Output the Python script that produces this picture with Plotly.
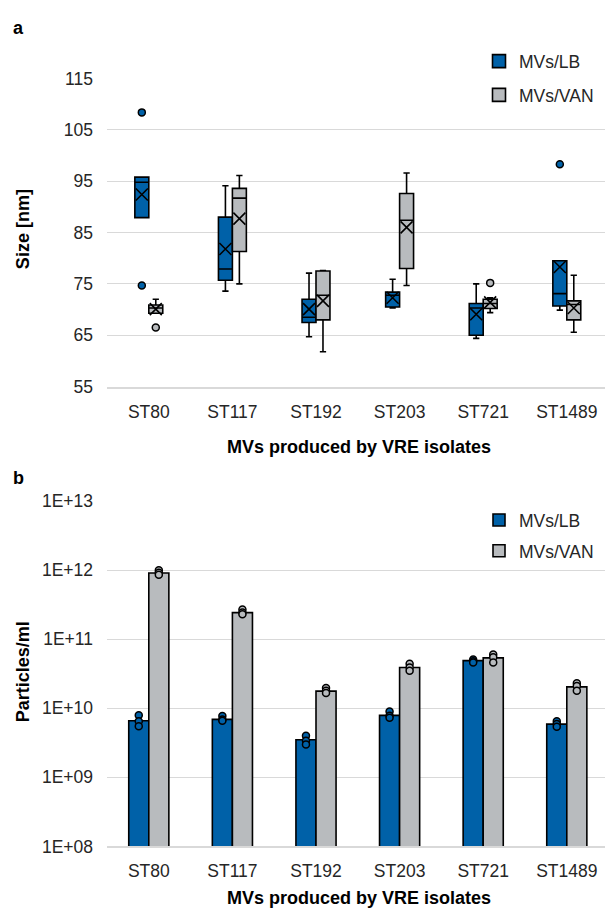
import numpy as np
import plotly.graph_objects as go

# ---------------- data ----------------
categories = ["ST80", "ST117", "ST192", "ST203", "ST721", "ST1489"]
series_names = ["MVs/LB", "MVs/VAN"]

# Panel a: MV size (nm), box-plot statistics
lb_q1 = [87.9, 75.7, 67.5, 70.5, 65.0, 70.7]
lb_median = [94.8, 77.9, 68.5, 72.8, 70.3, 73.1]
lb_q3 = [95.8, 88.0, 72.0, 73.4, 71.2, 79.5]
lb_lower = [87.9, 73.6, 64.7, 70.3, 64.4, 69.9]
lb_upper = [95.8, 94.1, 77.1, 75.9, 75.0, 79.5]
lb_mean = [92.4, 81.8, 70.1, 72.3, 69.1, 78.3]
lb_out_cat = ["ST80", "ST80", "ST1489"]
lb_out_val = [108.4, 74.7, 98.3]

van_q1 = [69.3, 81.3, 68.0, 78.0, 70.2, 68.0]
van_median = [70.3, 91.7, 72.8, 87.4, 71.2, 71.0]
van_q3 = [70.9, 93.6, 77.5, 92.6, 72.0, 71.7]
van_lower = [69.3, 75.0, 61.8, 74.7, 69.4, 65.6]
van_upper = [72.0, 96.1, 77.6, 96.6, 72.3, 76.7]
van_mean = [70.1, 87.7, 71.7, 86.0, 71.4, 70.3]
van_out_cat = ["ST80", "ST721"]
van_out_val = [66.5, 75.2]

size_ticks = [55, 65, 75, 85, 95, 105, 115]

# Panel b: particles/ml (bar = mean, points = replicates)
lb_particles = [6.6e9, 6.9e9, 3.5e9, 7.9e9, 4.9e10, 5.9e9]
van_particles = [9.1e11, 2.43e11, 1.77e10, 3.9e10, 5.36e10, 2.04e10]
lb_reps = [[7.9e9, 6.5e9, 5.5e9], [7.7e9, 6.9e9, 6.6e9], [4.0e9, 3.4e9, 3.0e9],
           [9.0e9, 7.8e9, 7.3e9], [5.1e10, 4.8e10, 4.6e10], [6.5e9, 5.9e9, 5.4e9]]
van_reps = [[1.0e12, 9.2e11, 8.6e11], [2.7e11, 2.43e11, 2.3e11], [1.96e10, 1.79e10, 1.66e10],
            [4.4e10, 3.9e10, 3.5e10], [6.0e10, 5.5e10, 4.6e10], [2.3e10, 2.1e10, 1.8e10]]
particle_ticks = [1e8, 1e9, 1e10, 1e11, 1e12, 1e13]
particle_ticktext = ["1E+08", "1E+09", "1E+10", "1E+11", "1E+12", "1E+13"]

# ---------------- style / layout ----------------
W, H = 605, 919
BLUE = "#0061A8"
GRAY = "#B8BBBE"
GRID = "#D9D9D9"
FONT = "Liberation Sans, Arial, sans-serif"
FS = 17.5
PX0 = 107          # left edge of plot area (px)
CAT_STEP = 83.6    # px per category
A_TOP, A_BOT = 70, 385
B_TOP, B_BOT = 502, 855
BOX_W = 0.167
BAR_W = 0.24


def py(p):
    return 1 - p / H


xs = np.arange(len(categories), dtype=float)
cat_index = {c: i for i, c in enumerate(categories)}
x_range = [-0.5, -0.5 + (W - PX0) / CAT_STEP]

fig = go.Figure()

# ---- panel a ----
for name, color, sgn, q1, med, q3, lo, hi, mn, ocat, oval in [
    (series_names[0], BLUE, -1, lb_q1, lb_median, lb_q3, lb_lower, lb_upper, lb_mean, lb_out_cat, lb_out_val),
    (series_names[1], GRAY, 1, van_q1, van_median, van_q3, van_lower, van_upper, van_mean, van_out_cat, van_out_val),
]:
    xpos = xs + sgn * BOX_W / 2
    fig.add_trace(go.Box(
        x=xpos, q1=q1, median=med, q3=q3, lowerfence=lo, upperfence=hi,
        width=BOX_W, fillcolor=color, line=dict(color="black", width=1.6),
        whiskerwidth=0.45, boxpoints=False, name=name, showlegend=False,
        xaxis="x", yaxis="y", hoverinfo="skip"))
    # legend entry (plain square swatch, as in the original)
    fig.add_trace(go.Scatter(
        x=[None], y=[None], mode="markers", name=name, legend="legend",
        legendgroup=name,
        marker=dict(symbol="square", size=13, color=color,
                    line=dict(color="black", width=1.6)),
        xaxis="x", yaxis="y", hoverinfo="skip"))
    fig.add_trace(go.Scatter(
        x=xpos, y=mn, mode="markers", showlegend=False, xaxis="x", yaxis="y",
        marker=dict(symbol="x-thin-open", size=12, color="black",
                    line=dict(color="black", width=1.6)), hoverinfo="skip"))
    ox = [cat_index[c] + sgn * BOX_W / 2 for c in ocat]
    fig.add_trace(go.Scatter(
        x=ox, y=oval, mode="markers", showlegend=False, xaxis="x", yaxis="y",
        marker=dict(symbol="circle", size=7, color=color,
                    line=dict(color="black", width=1.5)), hoverinfo="skip"))

# ---- panel b ----
for name, color, sgn, vals, reps in [
    (series_names[0], BLUE, -1, lb_particles, lb_reps),
    (series_names[1], GRAY, 1, van_particles, van_reps),
]:
    fig.add_trace(go.Bar(
        x=xs, y=vals, width=BAR_W, offset=(-BAR_W if sgn < 0 else 0),
        marker=dict(color=color, line=dict(color="black", width=1.6)),
        name=name, legend="legend2", legendgroup=name + "b",
        xaxis="x2", yaxis="y2", hoverinfo="skip"))
    px_, py_ = [], []
    for i, r in enumerate(reps):
        for v in r:
            px_.append(xs[i] + sgn * BAR_W / 2)
            py_.append(v)
    fig.add_trace(go.Scatter(
        x=px_, y=py_, mode="markers", showlegend=False, xaxis="x2", yaxis="y2",
        marker=dict(symbol="circle", size=7, color=color,
                    line=dict(color="black", width=1.5)), hoverinfo="skip"))

axis_common = dict(showgrid=False, zeroline=False, ticks="", showline=True,
                   linecolor=GRID, linewidth=2.2,
                   tickfont=dict(family=FONT, size=FS, color="#262626"),
                   tickmode="array", tickvals=list(xs), ticktext=categories,
                   range=x_range, fixedrange=True,
                   ticklabelstandoff=8)
yaxis_common = dict(showgrid=True, gridcolor=GRID, gridwidth=1.4, zeroline=False,
                    ticks="", showline=False,
                    tickfont=dict(family=FONT, size=FS, color="#262626"),
                    ticklabelstandoff=13, fixedrange=True)

legend_common = dict(font=dict(family=FONT, size=FS, color="#262626"),
                     bgcolor="rgba(0,0,0,0)", borderwidth=0,
                     xanchor="left", yanchor="top", itemclick=False)

fig.update_layout(
    width=W, height=H, margin=dict(l=0, r=0, t=0, b=0),
    paper_bgcolor="white", plot_bgcolor="white",
    boxmode="overlay", barmode="overlay",
    xaxis=dict(domain=[PX0 / W, 1.0], anchor="y", **axis_common),
    yaxis=dict(domain=[py(A_BOT), py(A_TOP)], anchor="x", range=[55, 115],
               tickmode="array", tickvals=size_ticks, **yaxis_common),
    xaxis2=dict(domain=[PX0 / W, 1.0], anchor="y2", **axis_common),
    yaxis2=dict(domain=[py(B_BOT), py(B_TOP)], anchor="x2", type="log", range=[8, 13],
                tickmode="array", tickvals=particle_ticks, ticktext=particle_ticktext,
                **yaxis_common),
    legend=dict(x=479 / W, y=py(34), tracegroupgap=8, itemsizing="trace", **legend_common),
    legend2=dict(x=479 / W, y=py(503), tracegroupgap=5, **legend_common),
    showlegend=True,
)

title_font = dict(family=FONT, size=18, color="black")
annotations = [
    dict(text="<b>a</b>", x=18 / W, y=py(18), xref="paper", yref="paper",
         showarrow=False, font=title_font, xanchor="center", yanchor="middle"),
    dict(text="<b>b</b>", x=18 / W, y=py(478), xref="paper", yref="paper",
         showarrow=False, font=title_font, xanchor="center", yanchor="middle"),
    dict(text="<b>Size [nm]</b>", x=23 / W, y=py(224), xref="paper", yref="paper",
         showarrow=False, font=title_font, textangle=-90, xanchor="center", yanchor="middle"),
    dict(text="<b>Particles/ml</b>", x=23 / W, y=py(676), xref="paper", yref="paper",
         showarrow=False, font=title_font, textangle=-90, xanchor="center", yanchor="middle"),
    dict(text="<b>MVs produced by VRE isolates</b>", x=359 / W, y=py(447),
         xref="paper", yref="paper", showarrow=False, font=title_font,
         xanchor="center", yanchor="middle"),
    dict(text="<b>MVs produced by VRE isolates</b>", x=359 / W, y=py(908),
         xref="paper", yref="paper", showarrow=False, font=title_font,
         xanchor="center", yanchor="middle"),
]
fig.update_layout(annotations=annotations)

fig.write_html("out.html", config={"displayModeBar": False},
               post_script="document.body.style.margin='0';document.body.style.overflow='hidden';")
